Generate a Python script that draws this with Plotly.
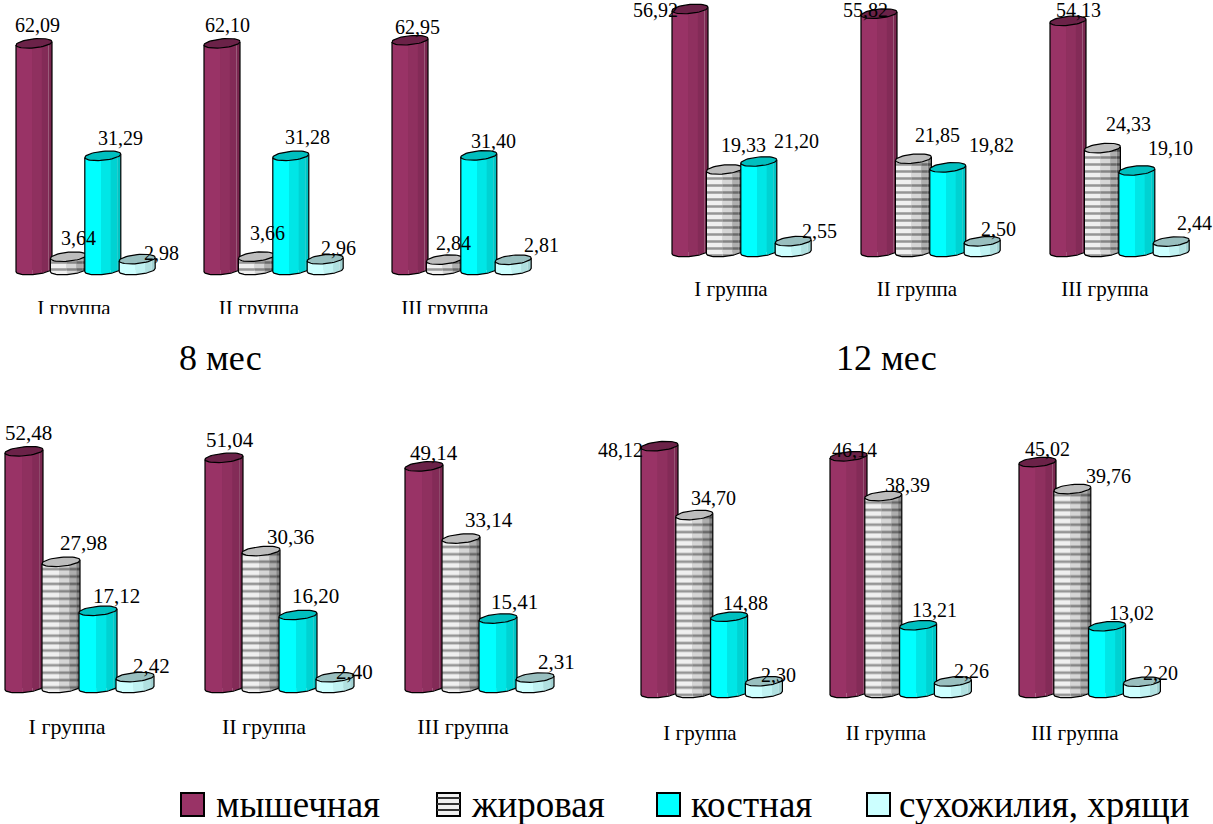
import numpy as np
import plotly.graph_objects as go

# Tissue shares, %, one list per age panel, rows = I, II, III group
SERIES = ["мышечная", "жировая", "костная", "сухожилия, хрящи"]
GROUPS = ["I группа", "II группа", "III группа"]

MONTH_8 = [[62.09, 3.64, 31.29, 2.98],
           [62.10, 3.66, 31.28, 2.96],
           [62.95, 2.84, 31.40, 2.81]]
MONTH_12 = [[56.92, 19.33, 21.20, 2.55],
            [55.82, 21.85, 19.82, 2.50],
            [54.13, 24.33, 19.10, 2.44]]
MONTH_C = [[52.48, 27.98, 17.12, 2.42],
           [51.04, 30.36, 16.20, 2.40],
           [49.14, 33.14, 15.41, 2.31]]
MONTH_D = [[48.12, 34.70, 14.88, 2.30],
           [46.14, 38.39, 13.21, 2.26],
           [45.02, 39.76, 13.02, 2.20]]

W, H = 1213, 824
FONT = "Liberation Serif"

# Page layout of each panel, in pixels
PANELS = [
    dict(values=MONTH_8, left=0, right=620, top=0, bottom=293, base=270, scale=3.65,
         x0=34, gstep=188, sstep=34.4, half=18, stripe=7, tick=[74, 259, 445], size=20,
         labels=[[(37.5, 25), (78, 238), (120, 138), (161, 253)],
                 [(227.5, 25), (267, 233), (307, 137), (339, 248)],
                 [(417, 27), (454, 243), (493, 141), (541, 245)]]),
    dict(values=MONTH_12, left=620, right=1213, top=0, bottom=274, base=252, scale=4.27,
         x0=690, gstep=189, sstep=34.4, half=18, stripe=7, tick=[731, 917, 1105], size=20,
         labels=[[(655, 10), (743.5, 145), (797, 141), (819, 231)],
                 [(865.5, 10), (937, 135), (991, 145), (998, 229)],
                 [(1078, 10), (1128, 124), (1170, 148), (1194, 223)]]),
    dict(values=MONTH_C, left=0, right=620, top=410, bottom=711, base=688, scale=4.51,
         x0=24, gstep=200, sstep=37, half=19, stripe=7.4, tick=[67, 264, 463], size=21,
         labels=[[(28, 433), (83, 543), (116, 596), (151, 666)],
                 [(230, 440), (290, 537), (315, 596), (355, 672)],
                 [(434, 453), (489, 520), (514.5, 602), (556, 662)]]),
    dict(values=MONTH_D, left=620, right=1213, top=410, bottom=718, base=693, scale=5.13,
         x0=659.5, gstep=189, sstep=34.8, half=18.5, stripe=7.4, tick=[700, 886, 1075], size=20,
         labels=[[(620, 450), (713, 498), (745, 603), (778, 675)],
                 [(854, 450), (908, 485), (934, 610), (971, 671)],
                 [(1047, 449), (1108, 476), (1131, 613), (1160, 673)]]),
]

# Cylinder shading: (start, end) across the width and a colour for every band
BANDS = [(0.0, 0.45), (0.45, 0.72), (0.72, 0.9), (0.9, 1.0)]
BODY = [["#993366", "#8f305f", "#832b57", "#7a2850"],
        ["#f0f0f0", "#d6d6d6", "#aeaeae", "#868686"],
        ["#00ffff", "#00e6e6", "#00d2d2", "#00c4c4"],
        ["#ccffff", "#c0f2f2", "#b0e0e0", "#a2d2d2"]]
STRIPE = ["#3c3c3c", "#333333", "#262626", "#141414"]
CAP = ["#6b2248", "#bdbdbd", "#00bfbf", "#99bfbf"]
MAIN = ["#8b2f5c", "#bbbbbb", "#00e0e0", "#bce8e8"]
ELL_B, ELL_TILT = 4.5, 1.7


def px_x(x):
    return x / W


def px_y(y):
    return 1 - y / H


def fmt(v):
    return f"{v:.2f}".replace(".", ",")


def lower_arc(f0, f1, n=9):
    """Front edge of the tilted ellipse between two width fractions."""
    f = np.linspace(f0, f1, n)
    c = 2 * f - 1
    return f, -np.sqrt(np.clip(1 - c * c, 0, 1)) * ELL_B + ELL_TILT * c


fig = go.Figure()
layout = dict(
    width=W, height=H, margin=dict(l=0, r=0, t=0, b=0), autosize=False,
    paper_bgcolor="white", plot_bgcolor="white", showlegend=False,
    barmode="overlay", font=dict(family=FONT, color="black"),
)
annotations, shapes = [], []

for i, p in enumerate(PANELS):
    sfx = "" if i == 0 else str(i + 1)
    xa, ya = f"x{sfx}", f"y{sfx}"
    to_x = lambda px: (px - p["x0"]) / p["gstep"]
    unit = p["half"] / p["gstep"]
    scale = p["scale"]
    layout[f"xaxis{sfx}"] = dict(
        domain=[px_x(p["left"]), px_x(p["right"])],
        range=[to_x(p["left"]), to_x(p["right"])],
        anchor=ya, showgrid=False, zeroline=False, showline=False, ticks="",
        tickmode="array", tickvals=[to_x(t) for t in p["tick"]], ticktext=GROUPS,
        tickfont=dict(family=FONT, size=p["size"] + 1, color="black"),
    )
    layout[f"yaxis{sfx}"] = dict(
        domain=[px_y(p["bottom"]), px_y(p["top"])],
        range=[(p["base"] - p["bottom"]) / scale, (p["base"] - p["top"]) / scale],
        anchor=xa, visible=False,
    )
    for s, name in enumerate(SERIES):
        centers = [g + s * p["sstep"] / p["gstep"] for g in range(len(GROUPS))]
        vals = [row[s] for row in p["values"]]
        fig.add_trace(go.Bar(
            x=centers, y=vals, width=1.5 * unit, name=name, xaxis=xa, yaxis=ya,
            marker=dict(color=MAIN[s], line=dict(width=0)),
        ))
        # Shaded bands of the cylinder walls
        for b, (f0, f1) in enumerate(BANDS):
            xs, ys = [], []
            for cx, v in zip(centers, vals):
                f, d = lower_arc(f0, f1)
                xp = cx - unit + 2 * unit * f
                xs += list(xp) + list(xp[::-1]) + [None]
                ys += list(d / scale) + list((v + d / scale)[::-1]) + [None]
            extra = {}
            if s == 1:
                extra["fillpattern"] = dict(shape="-", size=p["stripe"], solidity=0.36,
                                            fgcolor=STRIPE[b], bgcolor=BODY[s][b])
            fig.add_trace(go.Scatter(
                x=xs, y=ys, mode="lines", line=dict(width=0), fill="toself",
                fillcolor=BODY[s][b], hoverinfo="skip", xaxis=xa, yaxis=ya, **extra,
            ))
        # Top caps
        t = np.linspace(0, 2 * np.pi, 49)
        xs, ys = [], []
        for cx, v in zip(centers, vals):
            xs += list(cx + unit * np.cos(t)) + [None]
            ys += list(v + (ELL_B * np.sin(t) + ELL_TILT * np.cos(t)) / scale) + [None]
        fig.add_trace(go.Scatter(
            x=xs, y=ys, mode="lines", line=dict(color="black", width=1.2), fill="toself",
            fillcolor=CAP[s], hoverinfo="skip", xaxis=xa, yaxis=ya,
        ))
        # Silhouette: both sides and the front edge of the bottom
        xs, ys = [], []
        for cx, v in zip(centers, vals):
            f, d = lower_arc(0, 1, 33)
            xp = cx - unit + 2 * unit * f
            xs += [cx - unit] + list(xp) + [cx + unit, None]
            ys += [v - ELL_TILT / scale] + list(d / scale) + [v + ELL_TILT / scale, None]
        fig.add_trace(go.Scatter(
            x=xs, y=ys, mode="lines", line=dict(color="black", width=1.2),
            hoverinfo="skip", xaxis=xa, yaxis=ya,
        ))
    # Value labels
    for row, pos in zip(p["values"], p["labels"]):
        for v, (lx, ly) in zip(row, pos):
            annotations.append(dict(
                text=fmt(v), x=px_x(lx), y=px_y(ly), xref="paper", yref="paper",
                showarrow=False, xanchor="center", yanchor="middle",
                font=dict(family=FONT, size=p["size"], color="black"),
            ))

# Panel captions
for text, cx in (("8 мес", 221), ("12 мес", 886)):
    annotations.append(dict(
        text=text, x=px_x(cx), y=px_y(358), xref="paper", yref="paper", showarrow=False,
        xanchor="center", yanchor="middle", font=dict(family=FONT, size=36, color="black"),
    ))

# Legend row along the bottom edge
SWATCH_X = [181, 437, 657, 867]
TEXT_X = [214, 469, 689, 897]
for s, name in enumerate(SERIES):
    sx = SWATCH_X[s]
    shapes.append(dict(
        type="rect", xref="paper", yref="paper", x0=px_x(sx), x1=px_x(sx + 23),
        y0=px_y(816), y1=px_y(793), fillcolor=BODY[s][0], line=dict(color="black", width=2),
    ))
    if s == 1:
        for yy in (798, 804, 810):
            shapes.append(dict(
                type="line", xref="paper", yref="paper", x0=px_x(sx), x1=px_x(sx + 23),
                y0=px_y(yy), y1=px_y(yy), line=dict(color="#333333", width=2),
            ))
    annotations.append(dict(
        text=name, x=px_x(TEXT_X[s]), y=px_y(804), xref="paper", yref="paper",
        showarrow=False, xanchor="left", yanchor="middle",
        font=dict(family=FONT, size=37, color="black"),
    ))

# The top-left panel is cut off just under its group captions
shapes.append(dict(
    type="rect", xref="paper", yref="paper", layer="above", x0=0, x1=px_x(620),
    y0=px_y(325), y1=px_y(314), fillcolor="white", line=dict(width=0),
))

layout["annotations"] = annotations
layout["shapes"] = shapes
fig.update_layout(**layout)
fig.write_html("out.html")
